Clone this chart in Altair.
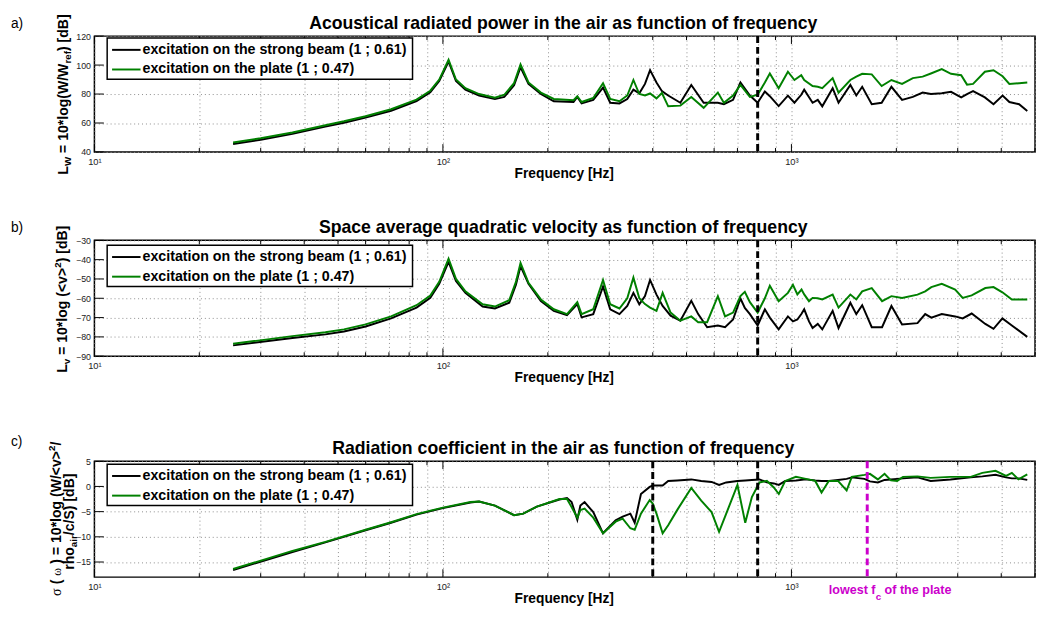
import altair as alt
import pandas as pd

# ---------------- data ----------------
series_names = ["excitation on the strong beam (1 ; 0.61)",
                "excitation on the plate (1 ; 0.47)"]
series_colors = ["#000000", "#008000"]

titles = ["Acoustical radiated power in the air as function of frequency",
          "Space average quadratic velocity as function of frequency",
          "Radiation coefficient in the air as function of frequency"]
panel_labels = ["a)", "b)", "c)"]
x_title = "Frequency [Hz]"

# panel a : L_W [dB]
freq_a = [25, 30, 37, 46, 52, 60, 71, 84, 92, 97.6, 103.8, 109, 116, 127, 141, 150, 160, 167, 176, 191,
          208, 237, 243, 250, 270, 288, 302, 321, 338, 352, 366, 380, 393, 410, 425, 443, 480, 516, 560, 615,
          640, 680, 714, 760, 800, 839, 867, 919, 977, 1020, 1067, 1088, 1150, 1190, 1226, 1313, 1365, 1476,
          1535, 1596, 1700, 1815, 1936, 2077, 2230, 2380, 2513, 2700, 2870, 3070, 3190, 3320, 3590, 3800,
          4035, 4220, 4500, 4750]
lw_beam = [45.5, 48.5, 52.5, 57.5, 60.2, 63.7, 68.5, 75.2, 81.3, 89, 102.5, 89, 83, 79, 76.5, 78, 86, 98.5, 87, 80,
           75, 74.5, 78, 73.5, 76, 84.5, 74, 73.5, 76.5, 83, 80.5, 87, 96.5, 88, 82, 79, 74, 86.3, 74, 74,
           73, 76, 88, 79, 74, 81.8, 78.5, 71.7, 78.9, 74, 79.5, 83, 74, 76, 71.5, 84, 74, 86.3,
           79, 85, 73, 74, 85, 76, 78, 81, 80, 80.5, 81.5, 77.7, 80, 82, 77.7, 73,
           79, 74.5, 73, 68.3]
lw_plate = [46.5, 49.5, 53.5, 58.5, 61.2, 64.7, 69.5, 76.2, 82.3, 90, 103.7, 90, 84, 80, 77.5, 79.5, 87.5, 100.5, 88, 81,
            76.6, 75.7, 78.5, 74.5, 77.3, 87.5, 76.6, 75, 79, 89.7, 80, 79, 80.4, 77, 80.7, 71.5, 72, 78, 70.5, 81,
            74, 79, 86.3, 78, 79.5, 88, 94.2, 84, 95.4, 89.7, 93, 89.7, 85.5, 85, 84, 91, 81, 89.7,
            92, 94, 93.6, 85.5, 89.7, 87, 91, 92, 94.2, 97.2, 94, 93, 86.5, 87, 95.4, 96.4,
            92.3, 87, 87.5, 88]

# panel b : L_v [dB]
freq_b = [25, 37, 46, 52, 60, 71, 84, 92, 97.6, 103.8, 109, 116, 130, 141, 155, 162, 167, 176, 191, 208,
          227, 243, 250, 270, 288, 302, 321, 338, 352, 366, 380, 393, 410, 427, 450, 480, 516, 540, 573, 615,
          645, 680, 714, 735, 760, 800, 839, 867, 919, 977, 1010, 1040, 1069, 1088, 1123, 1150, 1190, 1226,
          1313, 1365, 1476, 1535, 1596, 1700, 1820, 1936, 2077, 2300, 2420, 2520, 2700, 2950, 3100, 3290,
          3600, 3800, 4030, 4290, 4750]
lv_beam = [-84.4, -80.6, -78.7, -77.2, -74.6, -70.4, -64.8, -59.8, -52.5, -41.2, -51, -57.2, -64.3, -65.3, -62.3,
           -53, -43.4, -52.5, -61.5, -66.5, -68.7, -63, -69.9, -68.2, -53.9, -65.7, -68.2, -64, -57.2, -63.1,
           -58.9, -50.5, -58.1, -64, -69, -71.6, -61.3, -68.2, -75, -74.1, -75, -71, -60.1, -65, -68.2, -74.1,
           -65.7, -70, -76.1, -69.4, -72, -71, -68, -65.7, -72, -75.4, -73.3, -76.1, -66.5, -75.4, -62.3, -68.2,
           -63.6, -75, -75, -64, -73.6, -72.9, -68.2, -70, -68.2, -69.4, -70.4, -67.9, -73.3, -75.8, -70.4,
           -74.1, -80]
lv_plate = [-83.6, -79.6, -77.6, -76.1, -73.5, -69.4, -63.6, -58.6, -51.5, -39.5, -50, -56.4, -63.1, -64.3, -61,
            -51.5, -41.7, -52, -60.6, -65.7, -68.2, -62, -68.2, -65.7, -50.5, -63.1, -65.3, -60, -49.3, -60,
            -63, -64.8, -66.5, -57.2, -67.4, -71.6, -69.4, -72.4, -72.4, -58.9, -69.4, -67.4, -58.9, -56.7, -62,
            -67.4, -60, -53.5, -61.5, -57.2, -53, -58, -55.5, -58, -61.5, -59.8, -60, -60.6, -58.1, -64.8, -58.1,
            -60.6, -56.4, -54.7, -61.5, -58.9, -59.8, -58.1, -56.4, -54.2, -52.5, -55.5, -59.8, -58.5, -54.7,
            -54.2, -56.9, -60.6, -60.6]

# panel c : radiation coefficient [dB]
freq_c = [25, 37, 46, 60, 71, 84, 100, 120, 127, 141, 160, 170, 186, 216, 227, 234, 243, 248, 255, 270,
          288, 313, 328, 345, 355, 370, 392, 400, 410, 427, 443, 470, 516, 551, 590, 620, 650, 700, 737, 770,
          810, 850, 890, 920, 960, 1030, 1100, 1170, 1220, 1280, 1360, 1440, 1490, 1620, 1680, 1770, 1850,
          1930, 2010, 2090, 2300, 2510, 2860, 3270, 3530, 3850, 4130, 4290, 4480, 4750]
sigma_beam = [-16.6, -13.0, -11.1, -8.7, -7.2, -5.6, -4.3, -3.2, -3, -3.8, -5.7, -5.4, -4, -2.6, -2.3, -3.1, -6.6,
              -3.8, -3.1, -5.1, -9.3, -6.7, -6, -5.4, -7.2, -1.5, -0.1, 0.2, 0.2, 0.2, 1.1, 1.2, 1.4, 1.1, 0.9,
              0.3, 0.8, 1.1, 1.2, 1.3, 1.4, 0.8, 0.6, 0.3, 1.1, 1.2, 1.4, 1.2, 1.1, 1.1, 1.3, 1.5, 1.8, 1.5,
              1.0, 0.8, 1.3, 1.4, 1.5, 1.6, 1.8, 1.1, 1.4, 1.8, 2.0, 2.3, 1.8, 1.6, 1.6, 1.3]
sigma_plate = [-16.4, -12.8, -11.0, -8.6, -7.1, -5.5, -4.2, -3.1, -3, -3.8, -5.7, -5.4, -4, -2.5, -2.5, -4.1, -6.2,
               -4.7, -4.4, -6.2, -9.3, -7, -6.4, -8.3, -8.6, -5.4, -2.7, -3.4, -5.4, -9.3, -7.7, -4.7, -0.3,
               -2.8, -5.1, -9, -5.4, 0.3, -7.2, -2.1, 0.8, 1.1, -0.2, -1.5, 1.1, 1.9, 1.5, 1.1, -1.2, 1.1, 1.1,
               -0.8, 1.9, 2.3, 2.5, 1.4, 2.5, 1.2, 1.1, 1.9, 2.0, 1.7, 1.9, 1.9, 2.7, 3.1, 2.1, 2.7, 1.4, 2.4]

x_domain = [10, 5000]
x_grid = [10, 20, 30, 40, 50, 60, 70, 80, 90, 100, 200, 300, 400, 500, 600, 700, 800, 900,
          1000, 2000, 3000, 4000, 5000]
x_major = [10, 100, 1000]
x_major_labels = ["10¹", "10²", "10³"]

y_domain_a, y_ticks_a = [40, 120], [40, 60, 80, 100, 120]
y_domain_b, y_ticks_b = [-90, -30], [-90, -80, -70, -60, -50, -40, -30]
y_domain_c, y_ticks_c = [-18, 5], [-15, -10, -5, 0, 5]

limit_freqs_ab = [800]
limit_freqs_c = [400, 800]
coincidence_freq = [1650]
coincidence_label = ["lowest f", "c", " of the plate"]

# ---------------- styling helpers ----------------
FONT = "Liberation Sans"
SERIF = "Liberation Serif"
MAGENTA = "#cc00cc"
W, H = 958, 118

BOLD_W = {' ': 278, '(': 333, ')': 333, '*': 389, '/': 278, '0': 556, '1': 556, '2': 556,
          ';': 333, '<': 584, '=': 584, '>': 584, '[': 333, ']': 333, '.': 278, 'A': 722, 'B': 722,
          'H': 722, 'L': 611, 'S': 667, 'W': 944, 'F': 611, 'a': 556, 'b': 611, 'c': 556, 'd': 611,
          'e': 556, 'f': 333, 'g': 611, 'h': 611, 'i': 278, 'l': 278, 'm': 889, 'n': 611, 'o': 611,
          'p': 611, 'q': 611, 'r': 389, 's': 556, 't': 333, 'u': 611, 'v': 556, 'w': 778, 'y': 556,
          'z': 500, 'σ': 550, 'ω': 690}


def tw(s, size):
    return sum(BOLD_W.get(ch, 556) for ch in s) * size / 1000.0


def txt(s, x, y, size, weight="bold", font=FONT, color="black", align="left",
        baseline="alphabetic", angle=0):
    return alt.Chart(pd.DataFrame({"t": [s]})).mark_text(
        font=font, fontSize=size, fontWeight=weight, color=color, align=align,
        baseline=baseline, angle=angle
    ).encode(x=alt.value(x), y=alt.value(y), text="t:N")


def split_lead(text, size):
    lead = len(text) - len(text.lstrip(" "))
    return text.strip(" "), tw(" " * lead, size)


def vtitle(pieces, x_base, y_center):
    """pieces: (text, size, shift, font, weight) ; rotated, reading bottom-to-top"""
    total = sum(tw(p[0], p[1]) for p in pieces)
    y = y_center + total / 2.0
    layers = []
    for text, size, shift, font, weight in pieces:
        shown, lead = split_lead(text, size)
        layers.append(txt(shown, x_base + shift, y - lead, size, weight=weight, font=font, angle=270))
        y -= tw(text, size)
    return layers


def htext(pieces, x0, y0, color):
    x = x0
    layers = []
    for text, size, shift in pieces:
        shown, lead = split_lead(text, size)
        layers.append(txt(shown, x + lead, y0 + shift, size, color=color))
        x += tw(text, size)
    return layers


label_expr = " : ".join(f"datum.value == {v} ? '{l}'" for v, l in zip(x_major, x_major_labels)) + " : ''"


def panel(freq, beam, plate, ydom, yticks, title, plabel, plabel_y, ytitle_layers, vlines,
          legend_top, extent, extra=None):
    X = alt.X("f:Q", scale=alt.Scale(type="log", domain=x_domain, nice=False),
              axis=alt.Axis(values=x_grid, labelExpr=label_expr, grid=True, ticks=False, tickSize=0,
                            domain=False, title=None, labelFontSize=9.5, labelPadding=5,
                            labelOverlap=False, labelFlush=False))
    Y = alt.Y("v:Q", scale=alt.Scale(domain=ydom, nice=False, zero=False),
              axis=alt.Axis(values=yticks, grid=True, ticks=False, tickSize=0, domain=False,
                            title=None, labelFontSize=9, labelPadding=4))
    df_b = pd.DataFrame({"f": freq, "v": beam})
    df_p = pd.DataFrame({"f": freq, "v": plate})
    one = pd.DataFrame({"k": [0]})
    layers = []
    # invisible spacer that fixes the vertical extent of the panel for the layout
    layers.append(alt.Chart(one).mark_rule(opacity=0, strokeWidth=1).encode(
        x=alt.value(0), y=alt.value(extent[0]), y2=alt.value(H + extent[1])))
    # inward ticks
    minor = pd.DataFrame({"f": [v for v in x_grid if v not in x_major]})
    major = pd.DataFrame({"f": x_major})
    for d, ln in ((minor, 4), (major, 8)):
        layers.append(alt.Chart(d).mark_rule(color="black", strokeWidth=1).encode(
            x=X, y=alt.value(H), y2=alt.value(H - ln)))
        layers.append(alt.Chart(d).mark_rule(color="black", strokeWidth=1).encode(
            x=X, y=alt.value(0), y2=alt.value(ln)))
    layers.append(alt.Chart(pd.DataFrame({"v": yticks})).mark_rule(color="black", strokeWidth=1).encode(
        y=Y, x=alt.value(0), x2=alt.value(9.6)))
    # curves
    layers.append(alt.Chart(df_b).mark_line(color=series_colors[0], strokeWidth=2, clip=True).encode(x=X, y=Y))
    layers.append(alt.Chart(df_p).mark_line(color=series_colors[1], strokeWidth=2, clip=True).encode(x=X, y=Y))
    # vertical dashed limits
    for freqs, col in vlines:
        layers.append(alt.Chart(pd.DataFrame({"f": freqs})).mark_rule(
            color=col, strokeWidth=3, strokeDash=[7, 4]).encode(x=X))
    # legend
    t = legend_top
    layers.append(alt.Chart(one).mark_rect(
        fill="white", stroke="black", strokeWidth=1.5).encode(
        x=alt.value(13), x2=alt.value(324), y=alt.value(t), y2=alt.value(t + 42)))
    for i, (name, col) in enumerate(zip(series_names, series_colors)):
        yy = t + 12 + 20 * i
        layers.append(alt.Chart(one).mark_rule(color=col, strokeWidth=2).encode(
            x=alt.value(18), x2=alt.value(47), y=alt.value(yy)))
        layers.append(txt(name, 49, yy, 14.5, baseline="middle"))
    # texts
    layers.append(txt(title, W / 2 - 1.5, -7, 18, align="center"))
    layers.append(txt(x_title, W / 2 - 0.5, H + 26, 14, align="center"))
    layers.append(txt(plabel, -85, plabel_y, 14, weight="normal"))
    layers += ytitle_layers
    if extra:
        layers += extra
    return alt.layer(*layers).properties(width=W, height=H)


SUB, MAIN = 10, 14.3
ya = vtitle([("L", MAIN, 0, FONT, "bold"), ("W", SUB, 3, FONT, "bold"),
             (" = 10*log(W/W", MAIN, 0, FONT, "bold"), ("ref", SUB, 3, FONT, "bold"),
             (") [dB]", MAIN, 0, FONT, "bold")], -27, 59.5)
yb = vtitle([("L", MAIN, 0, FONT, "bold"), ("v", SUB, 3, FONT, "bold"),
             (" = 10*log (<v>", MAIN, 0, FONT, "bold"), ("2", SUB, -6, FONT, "bold"),
             (") [dB]", MAIN, 0, FONT, "bold")], -28, 60)
yc = vtitle([("σ", MAIN, 0, SERIF, "normal"), (" ( ", MAIN, 0, FONT, "bold"),
             ("ω", 12, 0, SERIF, "normal"), (" ) = 10*log (W/<v>", MAIN, 0, FONT, "bold"),
             ("2", SUB, -6, FONT, "bold"), ("/", MAIN, 0, FONT, "bold")], -34, 58.5) + \
     vtitle([("rho", MAIN, 0, FONT, "bold"), ("air", SUB, 3, FONT, "bold"),
             ("/c/S) [dB]", MAIN, 0, FONT, "bold")], -21, 61.5)

fc_text = htext([(coincidence_label[0], 12.8, 0), (coincidence_label[1], 10, 6),
                 (coincidence_label[2], 12.8, 0)], 748, 135, MAGENTA)

pa = panel(freq_a, lw_beam, lw_plate, y_domain_a, y_ticks_a, titles[0], panel_labels[0], -8, ya,
           [(limit_freqs_ab, "black")], 2, (-20, 35))
pb = panel(freq_b, lv_beam, lv_plate, y_domain_b, y_ticks_b, titles[1], panel_labels[1], -8, yb,
           [(limit_freqs_ab, "black")], 5, (-30, 35))
pc = panel(freq_c, sigma_beam, sigma_plate, y_domain_c, y_ticks_c, titles[2], panel_labels[2], -15.5, yc,
           [(limit_freqs_c, "black"), (coincidence_freq, MAGENTA)], 3, (-47, 35), extra=fc_text)

chart = alt.vconcat(pa, pb, pc, spacing=23).properties(
    padding={"left": 2, "top": 0, "right": 0, "bottom": 0}
).configure_view(stroke="black", strokeWidth=1.5).configure_axis(
    gridColor="#8c8c8c", gridDash=[1, 3], gridWidth=1, labelFont=FONT, labelColor="#222222"
)

chart.save("out.html", embed_options={"renderer": "svg", "actions": False})
